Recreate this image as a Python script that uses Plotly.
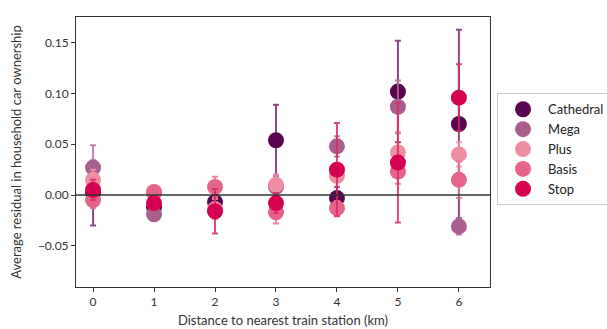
import plotly.graph_objects as go

distance = [0, 1, 2, 3, 4, 5, 6]
series_names = ["Cathedral", "Mega", "Plus", "Basis", "Stop"]

cathedral_vals = [0.002, -0.012, -0.007, 0.054, -0.003, 0.102, 0.070]
cathedral_err = [0.032, 0.008, 0.008, 0.035, 0.011, 0.050, 0.093]

mega_vals = [0.027, -0.019, -0.015, 0.008, 0.048, 0.087, -0.031]
mega_err = [0.022, 0.006, 0.008, 0.012, 0.010, 0.026, 0.008]

plus_vals = [0.015, 0.002, -0.014, 0.010, 0.019, 0.042, 0.040]
plus_err = [0.010, 0.006, 0.010, 0.010, 0.010, 0.020, 0.012]

basis_vals = [-0.005, 0.003, 0.008, -0.017, -0.013, 0.023, 0.015]
basis_err = [0.008, 0.006, 0.010, 0.011, 0.007, 0.012, 0.018]

stop_vals = [0.005, -0.008, -0.016, -0.008, 0.025, 0.032, 0.096]
stop_err = [0.010, 0.006, 0.022, 0.010, 0.046, 0.059, 0.033]

colors = ["#57064f", "#a95f8e", "#ee8ea2", "#e4648a", "#d5004f"]
err_colors = ["rgba(120,40,110,0.85)", "rgba(180,110,155,0.85)", "rgba(240,150,170,0.85)",
              "rgba(230,110,145,0.85)", "rgba(220,40,100,0.85)"]

values = [cathedral_vals, mega_vals, plus_vals, basis_vals, stop_vals]
errors = [cathedral_err, mega_err, plus_err, basis_err, stop_err]

fig = go.Figure()
for name, v, e, c, ec in zip(series_names, values, errors, colors, err_colors):
    fig.add_trace(go.Scatter(
        x=distance, y=v, mode="markers", name=name,
        marker=dict(size=16, color=c, line=dict(width=0)),
        error_y=dict(type="data", array=e, visible=True, color=ec, thickness=2, width=3),
    ))

fig.add_hline(y=0, line=dict(color="#333333", width=1.6))

font_family = "Lato, 'Open Sans', sans-serif"
fig.update_layout(
    width=607, height=329,
    margin=dict(l=76, r=117, t=17, b=42, autoexpand=False),
    paper_bgcolor="white", plot_bgcolor="white",
    font=dict(family=font_family, size=12, color="#333333"),
    showlegend=True,
    legend=dict(
        x=1.017, y=0.51, xanchor="left", yanchor="middle",
        bordercolor="#cccccc", borderwidth=1,
        font=dict(size=13, color="#222222"),
        tracegroupgap=2, itemwidth=40,
    ),
    xaxis=dict(
        range=[-0.28, 6.51], tickmode="array", tickvals=distance,
        ticktext=[str(d) for d in distance],
        showgrid=False, zeroline=False, automargin=False,
        showline=True, linecolor="#333333", linewidth=1, mirror=True,
        ticks="outside", ticklen=4, tickcolor="#333333",
        title=dict(text="Distance to nearest train station (km)", font=dict(size=13), standoff=7),
    ),
    yaxis=dict(
        range=[-0.0907, 0.1755], tickmode="array",
        tickvals=[-0.05, 0.0, 0.05, 0.10, 0.15],
        ticktext=["\u22120.05", "0.00", "0.05", "0.10", "0.15"],
        showgrid=False, zeroline=False, automargin=False,
        showline=True, linecolor="#333333", linewidth=1, mirror=True,
        ticks="outside", ticklen=4, tickcolor="#333333",
        title=dict(text="Average residual in household car ownership", font=dict(size=13), standoff=13),
    ),
)

fig.write_html("out.html")
